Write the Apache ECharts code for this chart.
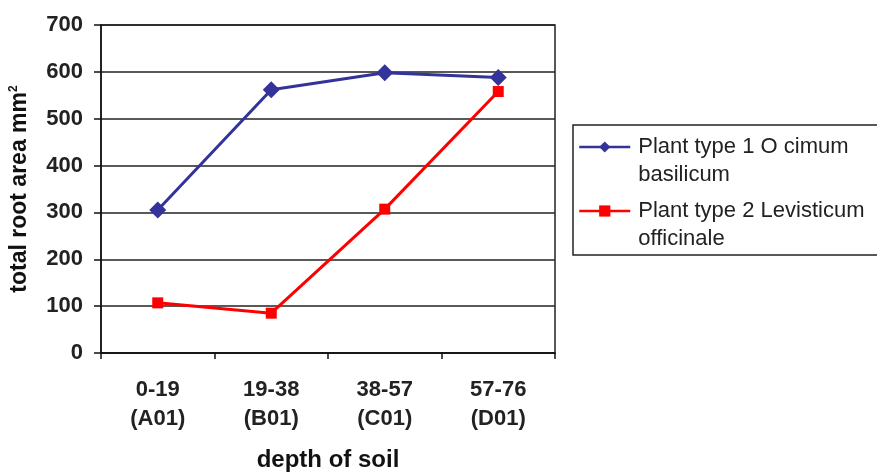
<!DOCTYPE html>
<html>
<head>
<meta charset="utf-8">
<script src="https://cdn.jsdelivr.net/npm/echarts@6/dist/echarts.min.js"></script>
<style>html,body{margin:0;padding:0;background:#fff;}#c{width:877px;height:474px;}</style>
</head>
<body>
<div id="c"></div>
<script>
var categories = ['0-19\n(A01)', '19-38\n(B01)', '38-57\n(C01)', '57-76\n(D01)'];
var seriesNames = ['Plant type 1 O cimum\nbasilicum', 'Plant type 2 Levisticum\nofficinale'];
var ocimum = [305, 562, 598, 588];
var levisticum = [107, 85, 307, 558];
var yTicks = [0, 100, 200, 300, 400, 500, 600, 700];

var FONT = '"Liberation Sans", Arial, sans-serif';
var chart = echarts.init(document.getElementById('c'), null, {renderer: 'canvas'});
chart.setOption({
  animation: false,
  backgroundColor: '#fff',
  textStyle: {fontFamily: FONT},
  grid: {left: 101, right: 322, top: 25, bottom: 121, show: true, borderColor: '#222', borderWidth: 1.5,
    backgroundColor: 'transparent', containLabel: false, outerBoundsMode: 'none'},
  graphic: [{
    type: 'rect', shape: {x: 573, y: 125, width: 330, height: 130},
    style: {fill: 'none', stroke: '#222', lineWidth: 1.5}, z: 1
  }],
  legend: {
    orient: 'vertical', left: 578, top: 105, padding: 0,
    itemWidth: 51, itemHeight: 14, itemGap: -20,
    data: seriesNames,
    lineStyle: {width: 2.5},
    formatter: function (name) { return '\n' + name; },
    textStyle: {fontFamily: FONT, fontSize: 22, color: '#222', lineHeight: 28, padding: [0, 0, 0, 3]}
  },
  xAxis: {
    type: 'category', data: categories, boundaryGap: true,
    name: 'depth of soil', nameLocation: 'middle', nameGap: 95,
    nameTextStyle: {fontFamily: FONT, fontSize: 24, fontWeight: 'bold', color: '#111'},
    axisLine: {lineStyle: {color: '#111', width: 1.5}},
    axisTick: {show: true, length: 6, inside: false, lineStyle: {color: '#111', width: 1.5}},
    axisLabel: {fontFamily: FONT, fontSize: 22, fontWeight: 'bold', color: '#222', lineHeight: 29, margin: 22}
  },
  yAxis: {
    type: 'value', min: 0, max: 700, interval: 100,
    name: '{a|total root area mm}{s|2}', nameLocation: 'middle', nameGap: 70, nameRotate: 90,
    nameTextStyle: {rich: {
      a: {fontFamily: FONT, fontSize: 23, fontWeight: 'bold', color: '#111'},
      s: {fontFamily: FONT, fontSize: 12, fontWeight: 'bold', color: '#111', verticalAlign: 'top', padding: [0, 0, 10, 0]}
    }},
    axisLine: {show: true, lineStyle: {color: '#111', width: 1.5}},
    axisTick: {show: true, length: 7, lineStyle: {color: '#111', width: 1.5}},
    axisLabel: {fontFamily: FONT, fontSize: 22, fontWeight: 'bold', color: '#222', margin: 18,
      formatter: function (v) { return yTicks.indexOf(v) >= 0 ? String(v) : ''; }},
    splitLine: {show: true, lineStyle: {color: '#222', width: 1.5}}
  },
  series: [
    {name: seriesNames[0], type: 'line', data: ocimum, symbol: 'diamond', symbolSize: 17,
     itemStyle: {color: '#333399'}, lineStyle: {color: '#333399', width: 3}, z: 3},
    {name: seriesNames[1], type: 'line', data: levisticum, symbol: 'rect', symbolSize: 11,
     itemStyle: {color: '#ff0000'}, lineStyle: {color: '#ff0000', width: 3}, z: 3}
  ]
});
</script>
</body>
</html>
